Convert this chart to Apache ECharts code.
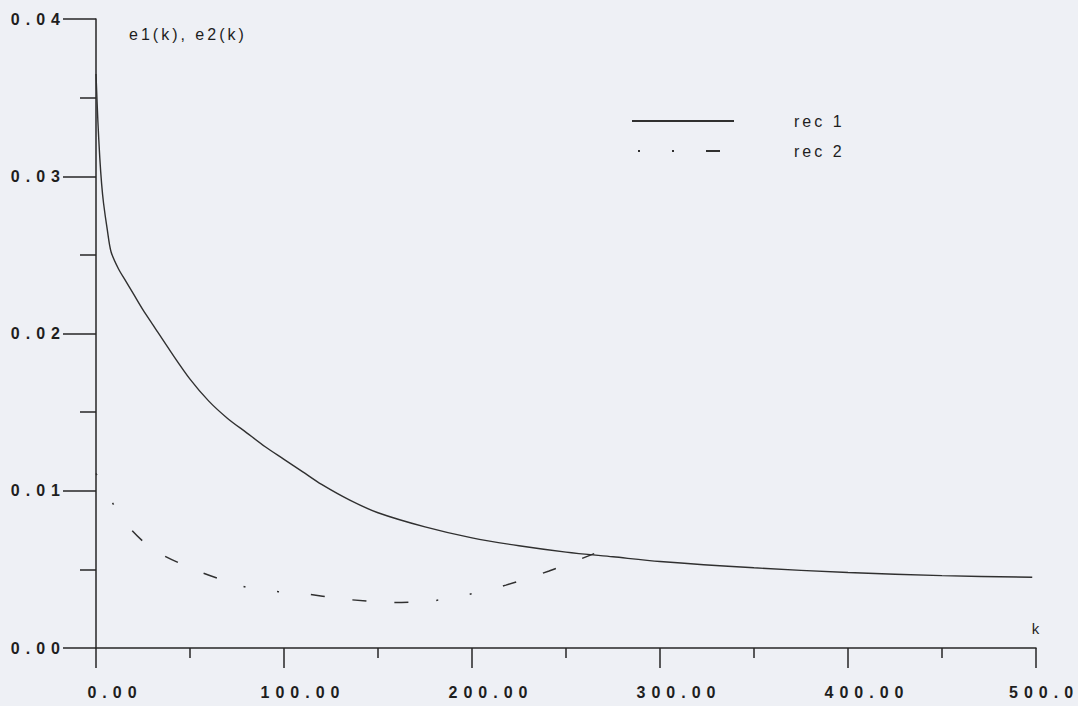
<!DOCTYPE html>
<html>
<head>
<meta charset="utf-8">
<script src="https://cdn.jsdelivr.net/npm/echarts@6/dist/echarts.min.js"></script>
<style>
  html, body { margin: 0; padding: 0; background: #eef0f5; }
  #chart { width: 1078px; height: 706px; }
  /* wide typewriter-like spacing of the plotted text */
  #chart svg text { letter-spacing: 3px; }
  #chart svg text[style*="bold"] { letter-spacing: 6px; }
</style>
</head>
<body>
<div id="chart"></div>
<script>
// rec 1: error e1(k)
const rec1K = [0, 1, 2, 3, 4, 6, 8, 12, 16, 20, 25, 30, 40, 50, 60, 70, 80, 90, 100, 110, 120, 135, 150, 175, 200, 225, 250, 275, 300, 350, 400, 450, 498];
const rec1E = [0.0365, 0.0335, 0.0312, 0.0295, 0.0283, 0.0266, 0.0252, 0.0241, 0.0233, 0.0225, 0.0215, 0.0206, 0.0188, 0.0171, 0.0157, 0.0146, 0.0137, 0.0128, 0.0120, 0.0112, 0.0104, 0.0094, 0.0086, 0.0077, 0.0070, 0.0065, 0.0061, 0.0058, 0.0055, 0.0051, 0.0048, 0.0046, 0.0045];

// rec 2: error e2(k)
const rec2K = [0, 7, 16, 30, 50, 68, 86, 108, 133, 158, 179, 198, 218, 241, 265];
const rec2E = [0.0111, 0.0096, 0.0079, 0.0063, 0.0051, 0.0043, 0.0037, 0.0035, 0.0031, 0.0029, 0.0030, 0.0034, 0.0040, 0.0049, 0.0060];

const xTickLabels = ['0.00', '100.00', '200.00', '300.00', '400.00', '500.0'];
const yTickLabels = ['0.00', '0.01', '0.02', '0.03', '0.04'];

const ink = '#262626';
const tickFont = { fontFamily: 'Liberation Sans', fontSize: 16, fontWeight: 'bold', color: '#1e1e1e' };
const plainFont = { fontFamily: 'Liberation Sans', fontSize: 16, fontWeight: 'normal', color: '#1e1e1e' };

const chart = echarts.init(document.getElementById('chart'), null, { renderer: 'svg' });

chart.setOption({
  animation: false,
  backgroundColor: '#eef0f5',
  grid: { left: 96, right: 42, top: 19, bottom: 58, outerBoundsMode: 'none' },
  legend: {
    orient: 'vertical',
    left: 626,
    top: 108,
    itemWidth: 102,
    itemHeight: 14,
    itemGap: 14,
    data: ['rec 1', 'rec 2'],
    itemStyle: { color: 'rgba(0,0,0,0)', borderWidth: 0, opacity: 0 },
    lineStyle: { dashOffset: -6 },
    textStyle: Object.assign({}, plainFont, { padding: [0, 0, 0, 55] })
  },
  xAxis: {
    type: 'value',
    min: 0,
    max: 500,
    interval: 100,
    name: 'k',
    nameLocation: 'end',
    nameGap: 0,
    nameTextStyle: Object.assign({}, plainFont, { fontSize: 15, align: 'center', verticalAlign: 'bottom', padding: [0, 0, 12, 2] }),
    axisLine: { show: true, onZero: false, lineStyle: { color: ink, width: 1.5 } },
    axisTick: { show: true, inside: false, length: 20, lineStyle: { color: ink, width: 1.5 } },
    minorTick: { show: true, splitNumber: 2, length: 10, lineStyle: { color: ink, width: 1.5 } },
    splitLine: { show: false },
    minorSplitLine: { show: false },
    axisLabel: Object.assign({}, tickFont, {
      margin: 36,
      align: 'center',
      padding: [0, 0, 0, 38],
      // the last label sits against the right edge
      formatter: v => {
        const i = Math.round(v / 100);
        return i === xTickLabels.length - 1 ? '{edge|' + xTickLabels[i] + '}' : xTickLabels[i];
      },
      rich: {
        edge: Object.assign({}, tickFont, { padding: [0, 22, 0, 0] })
      }
    })
  },
  yAxis: {
    type: 'value',
    min: 0,
    max: 0.04,
    interval: 0.01,
    name: 'e1(k), e2(k)',
    nameLocation: 'end',
    nameGap: -15,
    nameTextStyle: Object.assign({}, plainFont, { align: 'left', verticalAlign: 'middle', padding: [0, 0, 0, 33] }),
    axisLine: { show: true, onZero: false, lineStyle: { color: ink, width: 1.5 } },
    axisTick: { show: true, inside: false, length: 33, lineStyle: { color: ink, width: 1.5 } },
    minorTick: { show: true, splitNumber: 2, length: 16, lineStyle: { color: ink, width: 1.5 } },
    splitLine: { show: false },
    minorSplitLine: { show: false },
    axisLabel: Object.assign({}, tickFont, {
      margin: 30,
      formatter: v => yTickLabels[Math.round(v / 0.01)]
    })
  },
  series: [
    {
      name: 'rec 1',
      type: 'line',
      data: rec1K.map((k, i) => [k, rec1E[i]]),
      smooth: 0.3,
      symbol: 'none',
      color: '#303030',
      lineStyle: { color: '#303030', width: 1.4 }
    },
    {
      name: 'rec 2',
      type: 'line',
      data: rec2K.map((k, i) => [k, rec2E[i]]),
      smooth: 0.3,
      symbol: 'none',
      color: '#303030',
      lineStyle: { color: '#303030', width: 1.5, type: [2, 32, 2, 32, 14, 28, 14, 28, 14, 28] }
    }
  ]
});
</script>
</body>
</html>
